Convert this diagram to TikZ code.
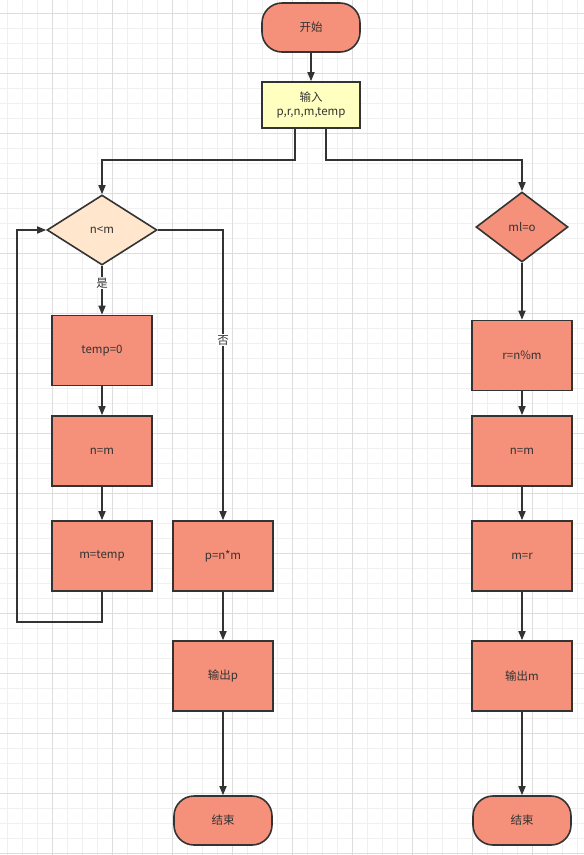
\documentclass[tikz,border=0pt]{standalone}
\usepackage{fontspec}
\setmainfont{Noto Sans CJK SC}
\usetikzlibrary{shapes.geometric,arrows.meta,calc}
\definecolor{salmon}{HTML}{F5917A}
\definecolor{peach}{HTML}{FFE6CC}
\definecolor{paleyellow}{HTML}{FFFFC0}
\definecolor{linec}{HTML}{333333}
\definecolor{txt}{HTML}{333333}
\definecolor{gridminor}{HTML}{F0F0F0}
\definecolor{gridmajor}{HTML}{DDDDDD}
\begin{document}
\begin{tikzpicture}[x=1pt,y=-1pt,
  base/.style={draw=linec,line width=1.6pt,text=txt,font=\fontsize{11.5}{14}\selectfont,inner sep=0pt,align=center},
  procbox/.style={base,rectangle,fill=salmon,minimum width=100pt,minimum height=70pt},
  termbox/.style={base,rectangle,rounded corners=20pt,fill=salmon,minimum width=98pt,minimum height=49pt},
  inbox/.style={base,rectangle,fill=paleyellow,minimum width=98pt,minimum height=46pt},
  decbox/.style={base,diamond,aspect=1.57,minimum width=110pt,minimum height=70pt},
  arr/.style={draw=linec,line width=1.6pt,-{Triangle[length=9pt,width=7pt]}},
  lbl/.style={fill=white,inner sep=1pt,text=txt,font=\fontsize{11.5}{14}\selectfont}
]
\useasboundingbox (0,0) rectangle (584,855);
\fill[white] (0,0) rectangle (584,855);
\foreach \x in {7,22,...,584} \draw[gridminor,line width=0.6pt] (\x,0) -- (\x,855);
\foreach \y in {13,28,...,855} \draw[gridminor,line width=0.6pt] (0,\y) -- (584,\y);
\foreach \x in {52,112,...,584} \draw[gridmajor,line width=0.7pt] (\x,0) -- (\x,855);
\foreach \y in {13,73,...,855} \draw[gridmajor,line width=0.7pt] (0,\y) -- (584,\y);

% nodes
\node[termbox] (start) at (311,27.5) {开始};
\node[inbox] (in) at (311,105) {输入\\p,r,n,m,temp};
\node[decbox,fill=peach] (d1) at (102,230) {n<m};
\node[procbox] (t0) at (102,350.5) {temp=0};
\node[procbox] (nm1) at (102,451) {n=m};
\node[procbox] (mt) at (102,556) {m=temp};
\node[procbox] (pn) at (223,556) {p=n*m};
\node[procbox] (op) at (223,676) {输出p};
\node[termbox] (end1) at (223,820.5) {结束};
\node[decbox,fill=salmon,aspect=1.3,minimum width=92pt] (d2) at (522,227) {ml=o};
\node[procbox] (r) at (522,355.5) {r=n\%m};
\node[procbox] (nm2) at (522,451) {n=m};
\node[procbox] (mr) at (522,556) {m=r};
\node[procbox] (om) at (522,676) {输出m};
\node[termbox] (end2) at (522,820.5) {结束};

\coordinate (inL) at ($(in.south west)!0.34!(in.south east)$);
\coordinate (inR) at ($(in.south west)!0.65!(in.south east)$);

% connectors
\draw[arr] (start) -- (in);
\draw[arr] (inL) -- (inL |- 0,160) -| (d1.north);
\draw[arr] (inR) -- (inR |- 0,160) -| (d2.north);
\draw[arr] (d1.south) -- node[lbl,pos=0.35] {是} (t0.north);
\draw[arr] (t0) -- (nm1);
\draw[arr] (nm1) -- (mt);
\draw[arr] (mt.south) -- ++(0,30) -- ++(-85,0) |- (d1.west);
\draw[arr] (d1.east) -| node[lbl,pos=0.69] {否} (pn.north);
\draw[arr] (pn) -- (op);
\draw[arr] (op) -- (end1);
\draw[arr] (d2.south) -- (r.north);
\draw[arr] (r) -- (nm2);
\draw[arr] (nm2) -- (mr);
\draw[arr] (mr) -- (om);
\draw[arr] (om) -- (end2);
\end{tikzpicture}
\end{document}
